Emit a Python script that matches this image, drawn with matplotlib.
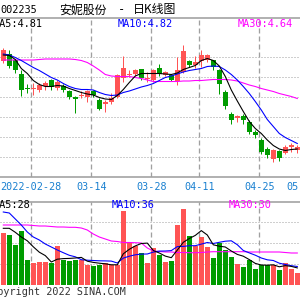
import matplotlib
matplotlib.use('Agg')
import matplotlib.pyplot as plt
import matplotlib.transforms as mtransforms

# ---------------- data ----------------
dates = ['2022-02-21', '2022-02-22', '2022-02-23', '2022-02-24', '2022-02-25',
         '2022-02-28', '2022-03-01', '2022-03-02', '2022-03-03', '2022-03-04',
         '2022-03-07', '2022-03-08', '2022-03-09', '2022-03-10', '2022-03-11',
         '2022-03-14', '2022-03-15', '2022-03-16', '2022-03-17', '2022-03-18',
         '2022-03-21', '2022-03-22', '2022-03-23', '2022-03-24', '2022-03-25',
         '2022-03-28', '2022-03-29', '2022-03-30', '2022-03-31', '2022-04-01',
         '2022-04-06', '2022-04-07', '2022-04-08', '2022-04-11', '2022-04-12',
         '2022-04-13', '2022-04-14', '2022-04-15', '2022-04-18', '2022-04-19',
         '2022-04-20', '2022-04-21', '2022-04-22', '2022-04-25', '2022-04-26',
         '2022-04-27', '2022-04-28', '2022-04-29', '2022-05-05', '2022-05-06']

opens = [6.73, 6.87, 6.73, 6.46, 6.18, 6.17, 6.14, 6.23, 6.34, 6.19,
         6.23, 6.13, 6.01, 6.03, 6.01, 6.13, 5.95, 5.86, 5.91, 6.01,
         6.39, 6.45, 6.46, 6.55, 6.37, 6.35, 6.59, 6.44, 6.44, 6.33,
         6.51, 6.71, 6.64, 6.73, 6.75, 6.73, 6.53, 6.11, 5.66, 5.59,
         5.62, 5.51, 5.31, 5.14, 4.97, 4.77, 4.93, 4.89, 5.01, 4.94]
closes = [6.94, 6.62, 6.55, 6.15, 6.16, 6.18, 6.24, 6.29, 6.21, 6.31,
          6.14, 6.01, 5.97, 6.05, 6.11, 6.04, 5.77, 5.91, 5.99, 6.44,
          6.57, 6.47, 6.55, 6.39, 6.39, 6.54, 6.46, 6.51, 6.34, 6.54,
          6.91, 6.64, 6.69, 6.84, 6.84, 6.61, 6.26, 5.82, 5.55, 5.62,
          5.54, 5.31, 5.24, 4.91, 4.84, 4.94, 4.79, 5.01, 5.04, 5.01]
highs = [6.99, 6.95, 6.77, 6.54, 6.27, 6.29, 6.29, 6.33, 6.37, 6.35,
         6.27, 6.15, 6.02, 6.13, 6.14, 6.15, 5.99, 5.95, 6.09, 6.46,
         6.82, 6.54, 6.57, 6.57, 6.51, 6.57, 6.66, 6.53, 6.47, 6.81,
         7.04, 6.75, 6.82, 6.94, 6.87, 6.75, 6.57, 6.14, 5.71, 5.64,
         5.66, 5.55, 5.34, 5.19, 5.01, 4.97, 4.95, 5.04, 5.09, 5.04]
lows = [6.69, 6.59, 6.49, 6.02, 6.09, 6.04, 6.11, 6.15, 6.15, 6.14,
        6.11, 5.97, 5.69, 5.99, 5.91, 6.01, 5.75, 5.71, 5.87, 5.99,
        6.31, 6.41, 6.43, 6.35, 6.31, 6.31, 6.42, 6.42, 6.33, 6.24,
        6.49, 6.61, 6.59, 6.61, 6.71, 6.55, 6.07, 5.77, 5.46, 5.51,
        5.47, 5.26, 5.19, 4.87, 4.79, 4.71, 4.73, 4.86, 4.91, 4.89]

ma5 = [6.84, 6.83, 6.75, 6.57, 6.47, 6.33, 6.25, 6.21, 6.21, 6.23,
       6.22, 6.17, 6.13, 6.09, 6.06, 6.04, 5.99, 5.96, 5.95, 6.03,
       6.15, 6.29, 6.42, 6.47, 6.47, 6.47, 6.47, 6.46, 6.45, 6.48,
       6.55, 6.59, 6.63, 6.73, 6.77, 6.73, 6.62, 6.41, 6.14, 5.92,
       5.71, 5.51, 5.37, 5.27, 5.14, 5.03, 4.96, 4.93, 4.95, 4.96]
ma10 = [6.86, 6.84, 6.79, 6.73, 6.66, 6.59, 6.53, 6.46, 6.39, 6.34,
        6.27, 6.21, 6.17, 6.15, 6.15, 6.14, 6.09, 6.05, 6.03, 6.04,
        6.09, 6.12, 6.16, 6.20, 6.23, 6.27, 6.33, 6.39, 6.42, 6.46,
        6.50, 6.53, 6.55, 6.57, 6.61, 6.62, 6.61, 6.54, 6.45, 6.34,
        6.21, 6.07, 5.91, 5.74, 5.55, 5.41, 5.27, 5.19, 5.13, 5.07]
ma30 = [6.74, 6.74, 6.74, 6.74, 6.74, 6.74, 6.75, 6.76, 6.76, 6.76,
        6.76, 6.76, 6.75, 6.73, 6.69, 6.62, 6.54, 6.45, 6.42, 6.41,
        6.41, 6.41, 6.39, 6.37, 6.34, 6.31, 6.31, 6.31, 6.31, 6.31,
        6.32, 6.32, 6.33, 6.33, 6.34, 6.35, 6.35, 6.35, 6.34, 6.32,
        6.28, 6.24, 6.21, 6.17, 6.14, 6.11, 6.07, 6.04, 6.01, 5.97]

volumes = [52, 50, 40, 54, 25, 22, 23, 23, 22, 39,
           25, 24, 25, 25, 20, 19, 20, 22, 20, 20,
           74, 42.5, 39, 32, 22, 37, 30, 23.5, 24, 60,
           76, 49, 39, 48, 38, 27, 42, 35, 28, 21,
           18, 25, 16, 20, 20, 20, 15, 22, 16, 12.5]
vma5 = [56.7, 56.7, 52.7, 48, 44.2, 38.2, 32.8, 29.4, 23, 25.8,
        26.4, 26.6, 27, 27.6, 23.8, 22.6, 21.8, 21.2, 20.2, 20.2,
        31.2, 35.7, 39.1, 41.5, 41.9, 34.5, 32, 28.9, 27.3, 34.9,
        42.7, 46.5, 49.6, 54.4, 50, 40.2, 38.8, 38, 34, 30.6,
        28.8, 25.4, 21.6, 20, 19.8, 20.2, 18.2, 19.4, 18.6, 17.1]
vma10 = [73, 72, 66, 60, 53, 48, 45, 41, 38, 35,
         32.3, 29.7, 28.2, 25.3, 24.8, 24.5, 24.2, 24.1, 23.9, 22,
         26.9, 28.8, 30.2, 30.9, 31, 32.9, 33.9, 34, 34.4, 38.4,
         38.6, 39.3, 39.3, 40.9, 42.5, 41.5, 42.7, 43.8, 44.2, 40.3,
         34.5, 32.1, 29.8, 27, 25.2, 24.5, 21.8, 20.5, 19.3, 18.5]
vma30 = [60, 60, 60, 60, 60, 59.5, 59, 59, 58.5, 58,
         58, 57.7, 57.7, 57, 55, 51, 48, 46, 44, 43.5,
         42.5, 42.5, 42.3, 42, 37, 34, 33.5, 33, 33, 32.5,
         32.5, 32.3, 32.3, 32.5, 33, 33.3, 33.3, 33.3, 33.3, 33.3,
         33.3, 33, 33, 33, 33, 33, 33, 32.5, 32, 32]

tick_positions = [5, 15, 25, 33, 43, 50]
tick_labels = ['2022-02-28', '03-14', '03-28', '04-11', '04-25', '05-09']
price_grid = [4.8, 5.2, 5.6, 6.0, 6.4, 6.8]
vol_grid = [21, 42, 63]

title_code = '002235'
title_name = '安妮股份'
title_kind = '日K线图'
price_labels = ['MA5:4.81', 'MA10:4.82', 'MA30:4.64']
vol_labels = ['MA5:28', 'MA10:36', 'MA30:30']
copyright_text = 'Copyright 2022 SINA.COM'

# ---------------- style ----------------
RED = '#ff5454'
GREEN = '#009c00'
GRID = '#a0a0a0'
FRAME = '#a0a0a0'
DATE_C = '#1a80d0'
MONO = 'DejaVu Sans Mono'
CJK = ['Noto Sans CJK SC', 'DejaVu Sans']
PX = 0.72  # one pixel in points at dpi 100
LAB = 7.4

W = H = 300.0
fig = plt.figure(figsize=(3, 3), dpi=100)
fig.patch.set_facecolor('white')


def fy(y):
    return 1 - y / H


ax = fig.add_axes([0, fy(177), 1, (177 - 18) / H])
axv = fig.add_axes([0, fy(285), 1, (285 - 201.5) / H])

n = len(opens)
xs = list(range(n))
up = [c >= o for o, c in zip(opens, closes)]
cols = [RED if u else GREEN for u in up]

for a in (ax, axv):
    a.set_xlim(-0.55, 49.45)
    a.set_xticks([])
    a.set_yticks([])
    a.set_facecolor('white')
    for s in ('left', 'right'):
        a.spines[s].set_visible(False)
    for pos in tick_positions:
        a.axvline(pos - 1 / 3, color=GRID, lw=1.3 * PX,
                  linestyle=(0, (5 / 1.3, 3 / 1.3)), zorder=1)

ax.set_ylim(4.4, 7.58)
axv.set_ylim(0, 83.5)
ax.spines['top'].set_color(FRAME)
ax.spines['top'].set_linewidth(1.6 * PX)
ax.spines['bottom'].set_color(FRAME)
ax.spines['bottom'].set_linewidth(1.6 * PX)
axv.spines['top'].set_color(FRAME)
axv.spines['top'].set_linewidth(1.6 * PX)
axv.spines['bottom'].set_visible(False)

for g in price_grid:
    ax.axhline(g, color=GRID, lw=PX, linestyle=(0, (1, 2)), zorder=1)
for g in vol_grid:
    axv.axhline(g, color=GRID, lw=PX, linestyle=(0, (1, 2)), zorder=1)

# candles
ax.vlines(xs, lows, highs, colors=cols, lw=PX, zorder=2)
bottoms = [min(o, c) for o, c in zip(opens, closes)]
heights = [max(abs(c - o), 0.02) for o, c in zip(opens, closes)]
ax.bar(xs, heights, bottom=bottoms, width=0.75, color=cols, linewidth=0, zorder=3)

ax.plot(xs, ma30, color='#ff00ff', lw=1.1 * PX, zorder=4)
ax.plot(xs, ma10, color='#0000ff', lw=1.1 * PX, zorder=4)
ax.plot(xs, ma5, color='black', lw=1.1 * PX, zorder=4)

# volume
axv.bar(xs, volumes, width=0.8, color=cols, linewidth=0, zorder=2)
axv.plot(xs, vma30, color='#ff00ff', lw=1.1 * PX, zorder=4)
axv.plot(xs, vma10, color='#0000ff', lw=1.1 * PX, zorder=4)
axv.plot(xs, vma5, color='black', lw=1.1 * PX, zorder=4)

# date labels
tr = mtransforms.blended_transform_factory(ax.transData, fig.transFigure)
for pos, lab in zip(tick_positions, tick_labels):
    ax.text(pos - 1 / 3, fy(187), lab, transform=tr, ha='center', va='center',
            fontsize=7.3, family=MONO, color=DATE_C, clip_on=False)

# title
fig.text(0.5 / W, fy(10), title_code, ha='left', va='center', fontsize=7.4,
         family=MONO, color='black')
fig.text(59 / W, fy(10), title_name, ha='left', va='center', fontsize=8.6,
         family=CJK, color='black')
fig.text(121 / W, fy(10), '-', ha='center', va='center', fontsize=8.6,
         family=MONO, color='black')
fig.text(133 / W, fy(10), title_kind, ha='left', va='center', fontsize=8.6,
         family=CJK, color='black')

# MA labels (price panel)
fig.text(43 / W, fy(24), price_labels[0], ha='right', va='center', fontsize=LAB,
         family=MONO, color='black')
fig.text(145 / W, fy(24), price_labels[1], ha='center', va='center', fontsize=LAB,
         family=MONO, color='#0000ff')
fig.text(265 / W, fy(24), price_labels[2], ha='center', va='center', fontsize=LAB,
         family=MONO, color='#ff00ff')

# MA labels (volume panel)
fig.text(30 / W, fy(205.5), vol_labels[0], ha='right', va='center', fontsize=LAB,
         family=MONO, color='black')
fig.text(133 / W, fy(205.5), vol_labels[1], ha='center', va='center', fontsize=LAB,
         family=MONO, color='#0000ff')
fig.text(250 / W, fy(205.5), vol_labels[2], ha='center', va='center', fontsize=LAB,
         family=MONO, color='#ff00ff')

fig.text(126 / W, fy(292), copyright_text, ha='right', va='center', fontsize=7.3,
         family=MONO, color='#333333')

fig.savefig('out.png', dpi=100, facecolor='white')
